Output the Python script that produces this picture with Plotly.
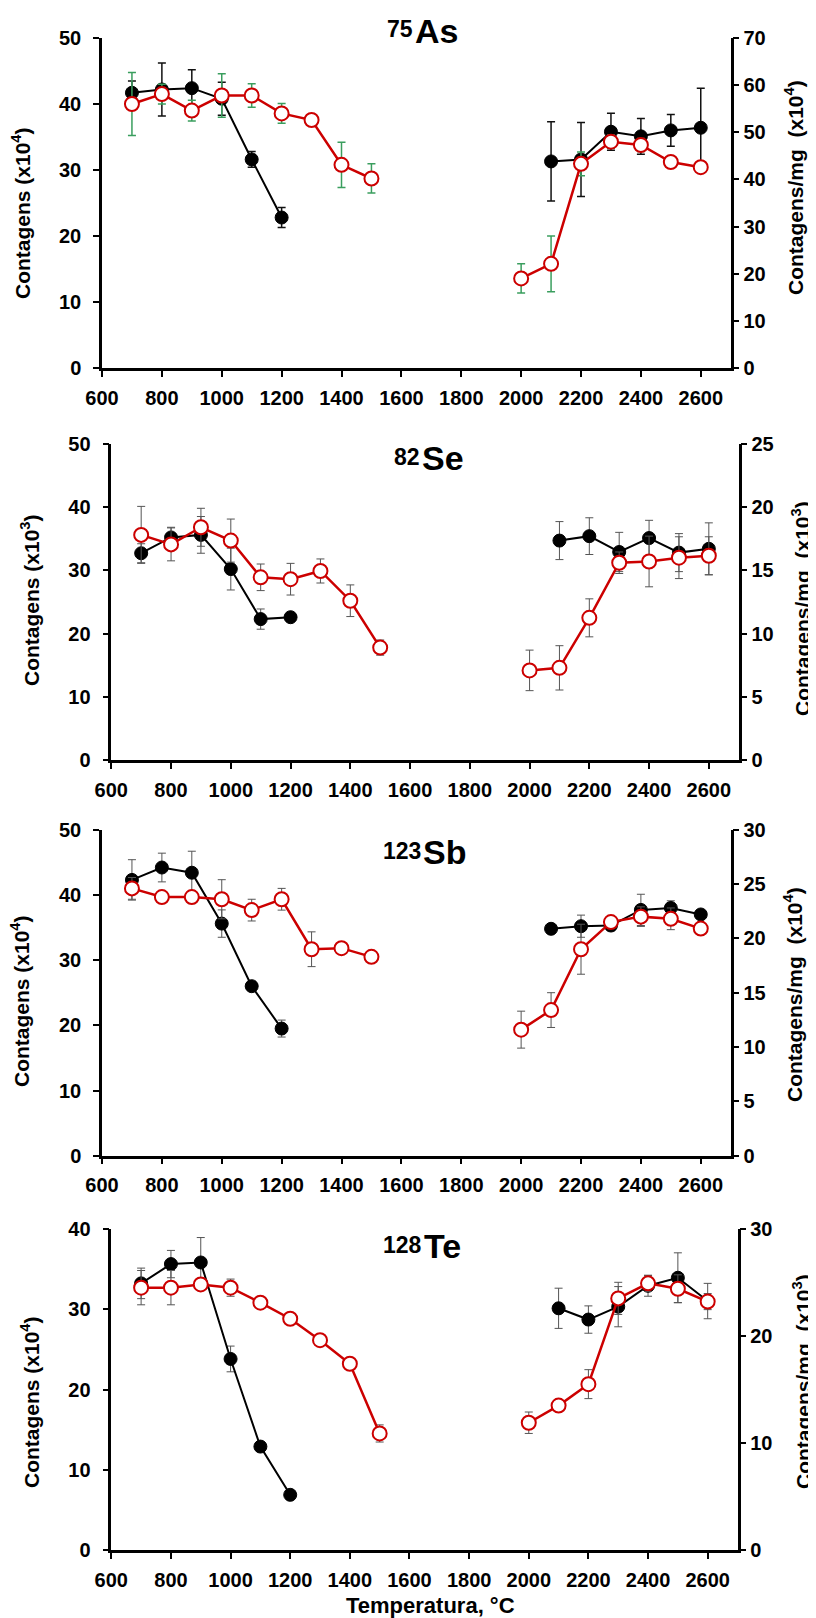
import plotly.graph_objects as go

# ---------------- data ----------------
temps = [700, 800, 900, 1000, 1100, 1200, 1300, 1400, 1500,
         2000, 2100, 2200, 2300, 2400, 2500, 2600]

element_mass = ["75", "82", "123", "128"]
element_symbol = ["As", "Se", "Sb", "Te"]
left_titles = ["Contagens (x10<sup>4</sup>)", "Contagens (x10<sup>3</sup>)",
               "Contagens (x10<sup>4</sup>)", "Contagens (x10<sup>4</sup>)"]
right_titles = ["Contagens/mg\u00a0 (x10<sup>4</sup>)", "Contagens/mg\u00a0 (x10<sup>3</sup>)",
                "Contagens/mg\u00a0 (x10<sup>4</sup>)", "Contagens/mg\u00a0 (x10<sup>3</sup>)"]
x_title = "Temperatura, °C"

left_max = [50, 50, 50, 40]
left_dtick = [10, 10, 10, 10]
right_max = [70, 25, 30, 30]
right_dtick = [10, 5, 5, 10]

# black filled circles: Contagens (left axis)
as_counts = [41.7, 42.2, 42.4, 40.8, 31.6, 22.8, None, None, None, None, 31.3, 31.6, 35.8, 35.1, 36.0, 36.4]
as_counts_err = [1.8, 4.0, 2.8, 2.5, 1.2, 1.5, 0, 0, 0, 0, 6.0, 5.6, 2.8, 2.7, 2.4, 6.0]
se_counts = [32.7, 35.2, 35.6, 30.2, 22.3, 22.6, None, None, None, None, 34.7, 35.4, 32.9, 35.1, 32.8, 33.4]
se_counts_err = [1.5, 1.6, 2.9, 3.3, 1.6, 0.5, 0, 0, 0, 0, 3.0, 2.9, 3.1, 2.8, 3.0, 4.1]
sb_counts = [42.3, 44.2, 43.4, 35.6, 26.0, 19.5, None, None, None, None, 34.8, 35.2, 35.3, 37.7, 38.0, 37.0]
sb_counts_err = [3.1, 2.2, 3.3, 2.1, 0.5, 1.3, 0, 0, 0, 0, 0.5, 1.7, 0.8, 2.4, 1.1, 0.5]
te_counts = [33.2, 35.6, 35.8, 23.8, 12.9, 6.9, None, None, None, None, 30.1, 28.7, 30.3, 32.9, 33.9, 31.0]
te_counts_err = [1.9, 1.7, 3.1, 1.6, 0.3, 0.3, 0, 0, 0, 0, 2.5, 1.7, 2.5, 1.3, 3.1, 2.2]

# red open circles: Contagens/mg (right axis)
as_per_mg = [56.0, 58.1, 54.6, 57.8, 57.8, 54.0, 52.6, 43.1, 40.2, 19.0, 22.1, 43.3, 48.0, 47.3, 43.7, 42.6]
as_per_mg_err = [6.7, 2.1, 2.2, 4.6, 2.5, 2.1, 0.5, 4.8, 3.1, 3.1, 5.9, 2.5, 1.4, 1.4, 0.7, 0.7]
se_per_mg = [17.8, 17.05, 18.4, 17.35, 14.45, 14.3, 14.95, 12.6, 8.9, 7.1, 7.3, 11.25, 15.6, 15.7, 16.0, 16.15]
se_per_mg_err = [2.25, 1.3, 1.5, 1.7, 1.05, 1.25, 0.95, 1.25, 0.6, 1.6, 1.75, 1.5, 0.85, 2.0, 1.65, 1.5]
sb_per_mg = [24.6, 23.8, 23.8, 23.6, 22.6, 23.6, 19.0, 19.1, 18.3, 11.6, 13.4, 19.0, 21.5, 22.0, 21.8, 20.9]
sb_per_mg_err = [1.0, 0.5, 0.6, 1.8, 1.0, 1.0, 1.6, 0, 0, 1.7, 1.6, 2.3, 0.3, 0.9, 1.0, 0]
te_per_mg = [24.5, 24.5, 24.8, 24.5, 23.1, 21.6, 19.6, 17.4, 10.9, 11.9, 13.5, 15.5, 23.5, 24.9, 24.4, 23.2]
te_per_mg_err = [1.6, 1.6, 0.4, 0.8, 0, 0, 0, 0, 0.8, 1.0, 0, 1.35, 1.5, 0.75, 1.3, 0.75]

counts = [as_counts, se_counts, sb_counts, te_counts]
counts_err = [as_counts_err, se_counts_err, sb_counts_err, te_counts_err]
per_mg = [as_per_mg, se_per_mg, sb_per_mg, te_per_mg]
per_mg_err = [as_per_mg_err, se_per_mg_err, sb_per_mg_err, te_per_mg_err]

# ---------------- layout geometry (pixels) ----------------
W, H = 816, 1618
panels = [  # x0, x1, y0, y1
    (94, 722.7, 30, 360),
    (103.3, 730.7, 435.7, 752.3),
    (94, 722.7, 821.7, 1147.7),
    (103.3, 729.5, 1220.7, 1542.3),
]
# split x between mass number and symbol, cap-centre y of symbol
title_split = [406, 413, 414, 415]
title_capy = [33.5, 461, 855, 1249]
left_title_pos = [(13, 205), (22, 592), (12, 993), (22, 1394)]
right_title_pos = [(786, 180), (793, 601), (785, 987), (794, 1374)]
x_title_pos = (422, 1597)

RED = "#cc0000"
FONT = "Liberation Sans, Arial, sans-serif"
SYM_SIZE, SUP_SIZE = 34, 23

def px_x(v):
    return v / W

def px_y(v):
    return 1 - v / H

def segments(xs, ys, es):
    low, high = ([], [], []), ([], [], [])
    for x, y, e in zip(xs, ys, es):
        if y is None:
            continue
        seg = low if x < 1800 else high
        seg[0].append(x); seg[1].append(y); seg[2].append(e)
    return [low, high]

fig = go.Figure()
layout = dict(template="none", width=W, height=H,
              margin=dict(l=0, r=0, t=0, b=0, pad=0, autoexpand=False),
              paper_bgcolor="white", plot_bgcolor="white", showlegend=False,
              annotations=[])

for i in range(4):
    xid = "x" if i == 0 else f"x{i+1}"
    ly = 2 * i + 1
    ry = 2 * i + 2
    lid = "y" if ly == 1 else f"y{ly}"
    rid = f"y{ry}"
    x0, x1, y0, y1 = panels[i]

    if i == 0:
        err_black = dict(color="#111111", thickness=1.5, width=4)
        err_red = dict(color="#3a9e5e", thickness=1.5, width=4)
    else:
        err_black = dict(color="#555555", thickness=1, width=4)
        err_red = dict(color="#555555", thickness=1, width=4)

    # red series (right axis)
    for sx, sy, se in segments(temps, per_mg[i], per_mg_err[i]):
        fig.add_trace(go.Scatter(
            x=sx, y=sy, xaxis=xid, yaxis=rid, mode="lines+markers",
            line=dict(color=RED, width=2.5),
            marker=dict(symbol="circle", size=14, color="white",
                        line=dict(color=RED, width=2)),
            error_y=dict(type="data", array=se, visible=True, **err_red)))
    # black series (left axis)
    for sx, sy, se in segments(temps, counts[i], counts_err[i]):
        fig.add_trace(go.Scatter(
            x=sx, y=sy, xaxis=xid, yaxis=lid, mode="lines+markers",
            line=dict(color="black", width=2),
            marker=dict(symbol="circle", size=13, color="black",
                        line=dict(color="black", width=1)),
            error_y=dict(type="data", array=se, visible=True, **err_black)))

    tickfont = dict(family=FONT, size=20, color="black", weight="bold")
    axis_common = dict(showgrid=False, zeroline=False, showline=True,
                       linecolor="black", linewidth=2.5, ticks="outside",
                       ticklen=6, tickwidth=2, tickcolor="black",
                       tickfont=tickfont, automargin=False)
    xkey = "xaxis" if i == 0 else f"xaxis{i+1}"
    lkey = "yaxis" if ly == 1 else f"yaxis{ly}"
    rkey = f"yaxis{ry}"
    layout[xkey] = dict(domain=[px_x(x0), px_x(x1)], range=[600, 2700],
                        anchor=lid, tick0=600, dtick=200,
                        ticklabelstandoff=4, **axis_common)
    layout[lkey] = dict(domain=[px_y(y1), px_y(y0)], range=[0, left_max[i]],
                        anchor=xid, dtick=left_dtick[i], side="left",
                        ticklabelstandoff=8, **axis_common)
    layout[rkey] = dict(domain=[px_y(y1), px_y(y0)], range=[0, right_max[i]],
                        anchor=xid, overlaying=lid, side="right",
                        dtick=right_dtick[i], **axis_common)

    # element title: mass number (superscript) + symbol
    sx_ = title_split[i]
    cy = title_capy[i]
    layout["annotations"].append(dict(
        text=element_symbol[i], x=px_x(sx_), y=px_y(cy - 0.32 * SYM_SIZE),
        xref="paper", yref="paper", xanchor="left", yanchor="middle",
        showarrow=False, borderpad=0,
        font=dict(family=FONT, size=SYM_SIZE, color="black", weight="bold")))
    layout["annotations"].append(dict(
        text=element_mass[i], x=px_x(sx_), y=px_y(cy - 5 - 0.32 * SUP_SIZE),
        xref="paper", yref="paper", xanchor="right", yanchor="middle",
        showarrow=False, borderpad=0,
        font=dict(family=FONT, size=SUP_SIZE, color="black", weight="bold")))

    lx, lyy = left_title_pos[i]
    layout["annotations"].append(dict(
        text=left_titles[i], x=px_x(lx), y=px_y(lyy), xref="paper", yref="paper",
        xanchor="center", yanchor="middle", showarrow=False, textangle=-90,
        font=dict(family=FONT, size=21, color="black", weight="bold")))
    rx, ryy = right_title_pos[i]
    layout["annotations"].append(dict(
        text=right_titles[i], x=px_x(rx), y=px_y(ryy), xref="paper", yref="paper",
        xanchor="center", yanchor="middle", showarrow=False, textangle=-90,
        font=dict(family=FONT, size=21, color="black", weight="bold")))

layout["annotations"].append(dict(
    text=x_title, x=px_x(x_title_pos[0]), y=px_y(x_title_pos[1]),
    xref="paper", yref="paper", xanchor="center", yanchor="middle",
    showarrow=False,
    font=dict(family=FONT, size=22, color="black", weight="bold")))

fig.update_layout(**layout)
fig.write_html("out.html")
